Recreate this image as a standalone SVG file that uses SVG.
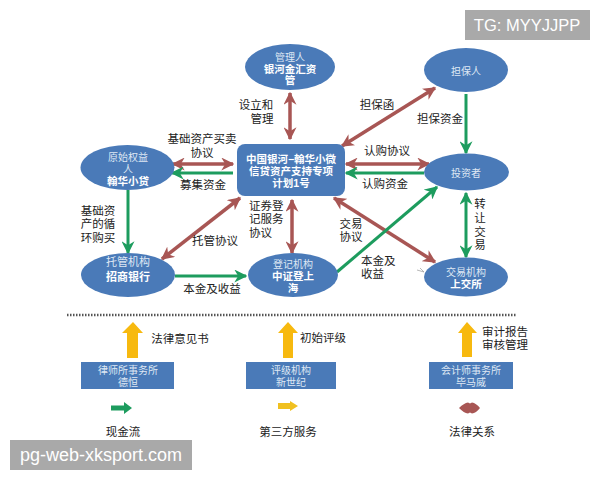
<svg xmlns="http://www.w3.org/2000/svg" width="600" height="480" viewBox="0 0 600 480">
<style>
text{font-family:"Liberation Sans","Noto Sans CJK SC",sans-serif;text-anchor:middle}
.lb{font-size:11.5px;fill:#222}
.st{text-anchor:start}
.nt{font-size:10px;fill:#dfe8f4}
.nb{font-size:10.5px;fill:#fff;font-weight:700}
.n{fill:#4a7ab8}
.red{stroke:#a85654;stroke-width:3.500;fill:none;marker-start:url(#rh);marker-end:url(#rh)}
.grn{stroke:#1d9c5e;stroke-width:3;fill:none;marker-end:url(#gh)}
.gb{marker-start:url(#gh)}
.org{fill:#f7b90f}
.wm{fill:#a9a9a9}
</style>
<defs>
<marker id="rh" viewBox="0 0 10 10" refX="9" refY="5" markerUnits="userSpaceOnUse" markerWidth="13" markerHeight="13" orient="auto-start-reverse"><path d="M0 0 L10 5 L0 10 L3 5Z" fill="#a85654"/></marker>
<marker id="gh" viewBox="0 0 10 10" refX="9" refY="5" markerUnits="userSpaceOnUse" markerWidth="13" markerHeight="13" orient="auto-start-reverse"><path d="M0 0 L10 5 L0 10 L3 5Z" fill="#1d9c5e"/></marker>
</defs>
<rect width="600" height="480" fill="#fff"/>
<g id="connectors">
<line class="red" x1="290" y1="93" x2="290" y2="139"/>
<line class="red" x1="173" y1="164" x2="233" y2="164"/>
<line class="grn" x1="233" y1="173" x2="172" y2="173"/>
<line class="red" x1="342" y1="146" x2="435" y2="88"/>
<line class="red" x1="346" y1="164" x2="429" y2="164"/>
<line class="grn" x1="424" y1="173" x2="346" y2="173"/>
<line class="grn" x1="466" y1="94" x2="466" y2="153"/>
<line class="grn gb" x1="466" y1="193" x2="466" y2="257"/>
<line class="red" x1="334" y1="198" x2="435" y2="262"/>
<line class="grn" x1="337" y1="272" x2="437" y2="187"/>
<line class="red" x1="292" y1="200" x2="292" y2="253"/>
<line class="red" x1="162" y1="259" x2="240" y2="198"/>
<line class="grn" x1="128" y1="190" x2="128" y2="253"/>
<line class="grn" x1="175" y1="276" x2="246" y2="276"/>
</g>
<g id="node-manager"><ellipse class="n" cx="290" cy="67" rx="45" ry="23"/><text class="nt" x="290" y="61">管理人</text><text class="nb" x="290" y="73">银河金汇资</text><text class="nb" x="290" y="84">管</text></g>
<g id="node-guarantor"><ellipse class="n" cx="466" cy="70" rx="42" ry="22"/><text class="nt" x="466" y="75">担保人</text></g>
<g id="node-investor"><ellipse class="n" cx="466.500" cy="172" rx="42.500" ry="18.500"/><text class="nt" x="466" y="177">投资者</text></g>
<g id="node-originator"><ellipse class="n" cx="127.500" cy="167.500" rx="47" ry="22.500"/><text class="nt" x="128" y="161">原始权益</text><text class="nt" x="128" y="173">人</text><text class="nb" x="128" y="185">翰华小贷</text></g>
<g id="node-plan"><rect class="n" x="237" y="144" width="108" height="52" rx="8"/><text class="nb" x="291" y="163">中国银河−翰华小微</text><text class="nb" x="291" y="175">信贷资产支持专项</text><text class="nb" x="291" y="187">计划1号</text></g>
<g id="node-custodian"><ellipse class="n" cx="128" cy="275" rx="47" ry="22"/><text class="nt" x="128" y="266" style="font-size:11px">托管机构</text><text class="nb" x="128" y="281" style="font-size:11px">招商银行</text></g>
<g id="node-registrar"><ellipse class="n" cx="293" cy="275" rx="45" ry="22"/><text class="nt" x="293" y="268">登记机构</text><text class="nb" x="293" y="280">中证登上</text><text class="nb" x="293" y="292">海</text></g>
<g id="node-exchange"><ellipse class="n" cx="466" cy="277" rx="42" ry="19.500"/><text class="nt" x="466" y="276">交易机构</text><text class="nb" x="466" y="288">上交所</text></g>
<path d="M417 270 L424 272 L420 268" fill="none" stroke="#999" stroke-width="0.7"/>
<g id="edge-labels">
<text class="lb" x="256" y="109">设立和</text><text class="lb" x="262" y="123">管理</text>
<text class="lb" x="202" y="143">基础资产买卖</text><text class="lb" x="202" y="157">协议</text>
<text class="lb" x="203" y="189">募集资金</text>
<text class="lb" x="377" y="109">担保函</text>
<text class="lb" x="440" y="123">担保资金</text>
<text class="lb" x="387" y="155">认购协议</text>
<text class="lb" x="385" y="188">认购资金</text>
<text class="lb" x="98" y="215">基础资</text><text class="lb" x="98" y="228">产的循</text><text class="lb" x="98" y="242">环购买</text>
<text class="lb" x="215" y="245">托管协议</text>
<text class="lb" x="212" y="293">本金及收益</text>
<text class="lb st" x="249" y="210">证券登</text><text class="lb st" x="249" y="223">记服务</text><text class="lb st" x="249" y="237">协议</text>
<text class="lb" x="351" y="228">交易</text><text class="lb" x="351" y="241">协议</text>
<text class="lb st" x="361" y="265">本金及</text><text class="lb st" x="361" y="278">收益</text>
<text class="lb" x="480" y="208">转</text><text class="lb" x="480" y="222">让</text><text class="lb" x="480" y="236">交</text><text class="lb" x="480" y="249">易</text>
</g>
<line x1="67" y1="315" x2="516" y2="315" stroke="#555" stroke-width="2.500" stroke-dasharray="1.500 1.500"/>
<path class="org" d="M133 322 L143 333 L138 333 L138 358 L127 358 L127 333 L122 333Z"/>
<path class="org" d="M288 322 L298 333 L293 333 L293 358 L283 358 L283 333 L278 333Z"/>
<path class="org" d="M467 322 L477 333 L472 333 L472 357 L462 357 L462 333 L458 333Z"/>
<g id="box-law"><rect class="n" x="81" y="362" width="93" height="27"/><text class="nt" x="128" y="374">律师所事务所</text><text class="nt" x="128" y="386">德恒</text></g>
<g id="box-rating"><rect class="n" x="246" y="362" width="90" height="27"/><text class="nt" x="291" y="374">评级机构</text><text class="nt" x="291" y="386">新世纪</text></g>
<g id="box-audit"><rect class="n" x="429" y="362" width="84" height="27"/><text class="nt" x="471" y="374">会计师事务所</text><text class="nt" x="471" y="386">毕马威</text></g>
<text class="lb" x="180" y="343">法律意见书</text>
<text class="lb" x="323" y="342">初始评级</text>
<text class="lb" x="505" y="336">审计报告</text><text class="lb" x="505" y="349">审核管理</text>
<path d="M111 405.500 H124 V402 L132 408 L124 414 V410.500 H111Z" fill="#1d9c5e"/>
<path d="M278 403 H290 V401 L298 406 L290 411 V409 H278Z" fill="#f0c020"/>
<path d="M459 408 Q464 403 468 402.500 L470 403.500 L472 402.500 Q476 403 480 408 Q476 413 472 413.500 L470 412.500 L468 413.500 Q464 413 459 408Z" fill="#a85654"/>
<text class="lb" x="123" y="436">现金流</text>
<text class="lb" x="288" y="436">第三方服务</text>
<text class="lb" x="472" y="436">法律关系</text>
<rect class="wm" x="465" y="10" width="125" height="30"/>
<text x="527" y="31" style="font-size:16.500px;fill:#fff">TG: MYYJJPP</text>
<rect class="wm" x="10" y="440" width="182" height="30"/>
<text x="101" y="461" style="font-size:18px;fill:#fff">pg-web-xksport.com</text>
</svg>
